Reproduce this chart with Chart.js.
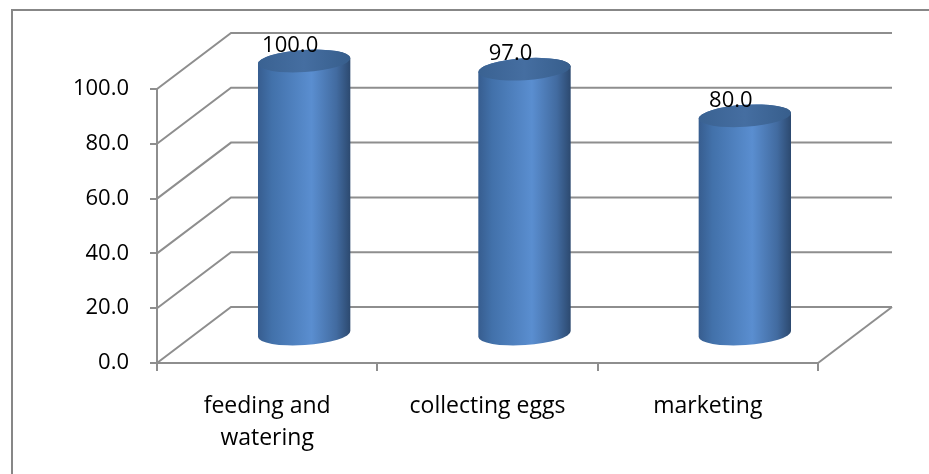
<!DOCTYPE html>
<html>
<head>
<meta charset="utf-8">
<script src="https://cdn.jsdelivr.net/npm/chart.js@4"></script>
<style>
  html, body { margin: 0; padding: 0; background: #fff; }
  #wrap { width: 929px; height: 474px; }
</style>
</head>
<body>
<div id="wrap"><canvas id="tasksChart" width="929" height="474"></canvas></div>
<script>
const categories = [['feeding and', 'watering'], 'collecting eggs', 'marketing'];
const values = [100.0, 97.0, 80.0];
const yMin = 0;
const yMax = 100;
const yStep = 20;

// 3d look: offset of the back wall relative to the front axes
const DX = 74, DY = -56;
const GRID = '#8e8e8e';
const FONT = 'Open Sans';

const cylinder3d = {
  id: 'cylinder3d',
  beforeDraw(chart) {
    const ctx = chart.ctx;
    ctx.save();
    ctx.strokeStyle = '#878787';
    ctx.lineWidth = 2;
    ctx.strokeRect(12, 10, 1200, 1200);
    ctx.restore();
  },
  beforeDatasetsDraw(chart) {
    const { ctx, chartArea, scales } = chart;
    const y = scales.y;
    const left = chartArea.left, right = chartArea.right, bottom = chartArea.bottom;
    ctx.save();
    ctx.strokeStyle = GRID;
    ctx.lineWidth = 2;
    y.ticks.forEach(t => {
      const py = y.getPixelForValue(t.value);
      ctx.beginPath();
      ctx.moveTo(left, py);
      ctx.lineTo(left + DX, py + DY);
      ctx.lineTo(right + DX, py + DY);
      ctx.stroke();
    });
    // right edge of the floor
    ctx.beginPath();
    ctx.moveTo(right, bottom);
    ctx.lineTo(right + DX, bottom + DY);
    ctx.stroke();
    ctx.restore();
  },
  afterDatasetsDraw(chart) {
    const ctx = chart.ctx;
    const meta = chart.getDatasetMeta(0);
    const ry = 11, rot = -0.065;
    meta.data.forEach((bar, i) => {
      const cx = bar.x + DX / 2;
      const top = bar.y + DY / 2;
      const base = bar.base + DY / 2;
      const rx = bar.width / 2;

      const g = ctx.createLinearGradient(cx - rx, 0, cx + rx, 0);
      g.addColorStop(0, '#375d8f');
      g.addColorStop(0.15, '#4271aa');
      g.addColorStop(0.58, '#5a8ed0');
      g.addColorStop(0.85, '#426ba0');
      g.addColorStop(1, '#2c496f');

      ctx.save();
      ctx.beginPath();
      ctx.ellipse(cx, base, rx, ry, rot, 0, Math.PI);
      ctx.ellipse(cx, top, rx, ry, rot, Math.PI, Math.PI * 2);
      ctx.closePath();
      ctx.fillStyle = g;
      ctx.fill();

      const tg = ctx.createLinearGradient(cx - rx, 0, cx + rx, 0);
      tg.addColorStop(0, '#3a6292');
      tg.addColorStop(0.5, '#456ea1');
      tg.addColorStop(1, '#375e8c');
      ctx.beginPath();
      ctx.ellipse(cx, top, rx, ry, rot, 0, Math.PI * 2);
      ctx.fillStyle = tg;
      ctx.fill();

      // value label
      ctx.fillStyle = '#000';
      ctx.font = '22px "' + FONT + '"';
      ctx.textAlign = 'center';
      ctx.textBaseline = 'middle';
      ctx.fillText(values[i].toFixed(1), cx - 14, top - 15);
      ctx.restore();
    });
  }
};

Chart.defaults.font.family = FONT;
Chart.defaults.font.size = 22;
Chart.defaults.color = '#000';

new Chart(document.getElementById('tasksChart'), {
  type: 'bar',
  data: {
    labels: categories,
    datasets: [{
      data: values,
      backgroundColor: 'rgba(0,0,0,0)',
      borderWidth: 0,
      categoryPercentage: 1,
      barPercentage: 0.42
    }]
  },
  options: {
    responsive: false,
    animation: false,
    layout: { padding: { left: 11, top: 89, right: 111, bottom: 0 } },
    plugins: { legend: { display: false }, tooltip: { enabled: false } },
    scales: {
      x: {
        afterFit: s => { s.height = 111; },
        grid: { offset: true, drawOnChartArea: false, tickLength: 8, color: GRID, lineWidth: 2 },
        border: { color: GRID, width: 2 },
        ticks: { padding: 19, font: { size: 23, lineHeight: 1.4 } }
      },
      y: {
        min: yMin,
        max: yMax,
        afterFit: s => { s.width = 146; },
        grid: { drawOnChartArea: false, tickLength: 7, color: GRID, lineWidth: 2 },
        border: { color: GRID, width: 2 },
        ticks: { stepSize: yStep, padding: 21, callback: v => v.toFixed(1) }
      }
    }
  },
  plugins: [cylinder3d]
});
</script>
</body>
</html>
